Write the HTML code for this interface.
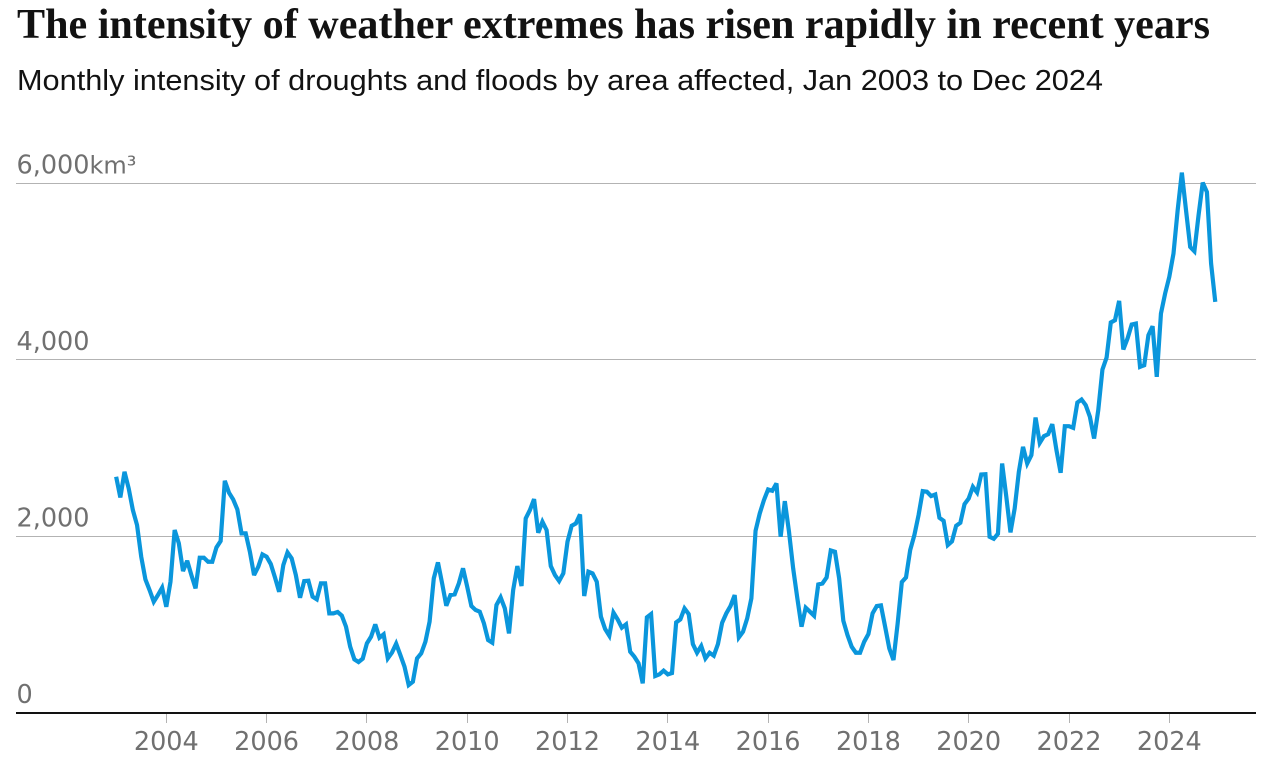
<!DOCTYPE html>
<html lang="en">
<head>
<meta charset="utf-8">
<title>The intensity of weather extremes has risen rapidly in recent years</title>
<style>
html,body{margin:0;padding:0;background:#fff;width:1280px;height:772px;overflow:hidden}
svg{display:block}
.tick{font-family:"DejaVu Sans","Liberation Sans",sans-serif;font-size:25.5px;fill:#707070}
</style>
</head>
<body>
<svg id="chart" width="1280" height="772" viewBox="0 0 1280 772" xmlns="http://www.w3.org/2000/svg">
<text x="17" y="38" font-family="'Liberation Serif',serif" font-weight="700" font-size="42" fill="#121212" textLength="1193" lengthAdjust="spacingAndGlyphs">The intensity of weather extremes has risen rapidly in recent years</text>
<text x="17" y="90" font-family="'Liberation Sans',sans-serif" font-size="29" fill="#121212" textLength="1086" lengthAdjust="spacingAndGlyphs">Monthly intensity of droughts and floods by area affected, Jan 2003 to Dec 2024</text>
<g id="grid"></g>
<g id="ylabels"></g>
<g id="xaxis"></g>
<path id="line" fill="none" stroke="#0a96dc" stroke-width="4.2" stroke-linejoin="miter" stroke-miterlimit="3"></path>
</svg>
<script>
const startYear = 2003;
const yTicks = [0, 2000, 4000, 6000];
const yTickLabels = ["0", "2,000", "4,000", "6,000"];
const yUnit = "km³";
const xTickYears = [2004, 2006, 2008, 2010, 2012, 2014, 2016, 2018, 2020, 2022, 2024];
const intensity = [
2677,2443,2733,2545,2299,2129,1771,1514,1393,1261,1337,1420,
1204,1488,2073,1922,1608,1725,1563,1412,1759,1759,1714,1714,
1876,1948,2631,2496,2420,2307,2035,2035,1827,1563,1657,1797,
1771,1688,1537,1374,1676,1820,1752,1563,1306,1495,1499,1318,
1288,1469,1469,1129,1129,1144,1103,978,751,608,578,616,
789,865,1004,853,891,619,685,785,657,525,317,355,
619,676,808,1035,1525,1707,1469,1216,1337,1344,1469,1639,
1431,1212,1167,1148,1016,827,797,1223,1310,1186,902,1393,
1665,1439,2205,2299,2424,2043,2167,2073,1665,1563,1495,1582,
1941,2122,2148,2250,1325,1601,1582,1488,1091,952,876,1137,
1061,967,1004,695,638,563,336,1084,1121,419,438,480,
438,453,1027,1061,1185,1121,781,683,759,619,683,649,
781,1023,1129,1212,1336,857,921,1072,1299,2065,2261,2412,
2533,2518,2601,1997,2401,2054,1638,1299,978,1193,1148,1102,
1457,1468,1536,1842,1827,1525,1046,883,751,683,683,808,
895,1129,1212,1219,978,732,600,1015,1484,1536,1846,2016,
2242,2514,2507,2458,2476,2212,2178,1903,1945,2121,2155,2367,
2431,2563,2499,2703,2706,1997,1974,2031,2827,2450,2046,2318,
2733,3016,2827,2922,3348,3061,3137,3159,3273,2978,2722,3250,
3250,3231,3518,3552,3488,3356,3110,3431,3892,4028,4425,4451,
4670,4119,4243,4402,4413,3922,3941,4281,4383,3809,4526,4753,
4942,5206,5697,6123,5697,5281,5232,5640,6010,5904,5093,4659
];

const SVGNS = "http://www.w3.org/2000/svg";
function xScale(monthIndex){ return 116.15 + monthIndex * (1003 / 240); }
function yScale(v){ return 713 - v * (529.5 / 6000); }

const grid = document.getElementById("grid");
const ylabels = document.getElementById("ylabels");
yTicks.forEach(function(t, i){
  const ly = yScale(t);
  if (t !== 0) {
    const gl = document.createElementNS(SVGNS, "rect");
    
    
    gl.setAttribute("x", 16);
    gl.setAttribute("y", Math.floor(ly - 0.5));
    gl.setAttribute("width", 1240);
    gl.setAttribute("height", 1);
    gl.setAttribute("fill", "#b3b3b3");
    grid.appendChild(gl);
  }
  const lab = document.createElementNS(SVGNS, "text");
  
  
  lab.setAttribute("class", "tick");
  lab.setAttribute("x", 16.5);
  lab.setAttribute("y", ly - 10);
  lab.textContent = yTickLabels[i];
  if (t === yTicks[yTicks.length - 1]) {
    const unit = document.createElementNS(SVGNS, "tspan");
    
    
    unit.setAttribute("font-size", "24");
    unit.textContent = yUnit;
    lab.appendChild(unit);
  }
  ylabels.appendChild(lab);
});

const xaxis = document.getElementById("xaxis");
const baseline = document.createElementNS(SVGNS, "rect");


baseline.setAttribute("x", 16);
baseline.setAttribute("y", 712);
baseline.setAttribute("width", 1240);
baseline.setAttribute("height", 2);
baseline.setAttribute("fill", "#121212");
xaxis.appendChild(baseline);
xTickYears.forEach(function(year){
  const tx = xScale((year - startYear) * 12);
  const tk = document.createElementNS(SVGNS, "rect");
  
  
  tk.setAttribute("x", Math.round(tx - 0.5));
  tk.setAttribute("y", 714);
  tk.setAttribute("width", 1);
  tk.setAttribute("height", 9);
  tk.setAttribute("fill", "#b3b3b3");
  xaxis.appendChild(tk);
  const lb = document.createElementNS(SVGNS, "text");
  
  
  lb.setAttribute("class", "tick");
  lb.setAttribute("x", tx);
  lb.setAttribute("y", 750);
  lb.setAttribute("text-anchor", "middle");
  lb.textContent = String(year);
  xaxis.appendChild(lb);
});

document.getElementById("line").setAttribute("d", intensity.map(function(v, i){
  return (i ? "L" : "M") + xScale(i).toFixed(2) + " " + yScale(v).toFixed(2);
}).join(""));
</script>
</body>
</html>
